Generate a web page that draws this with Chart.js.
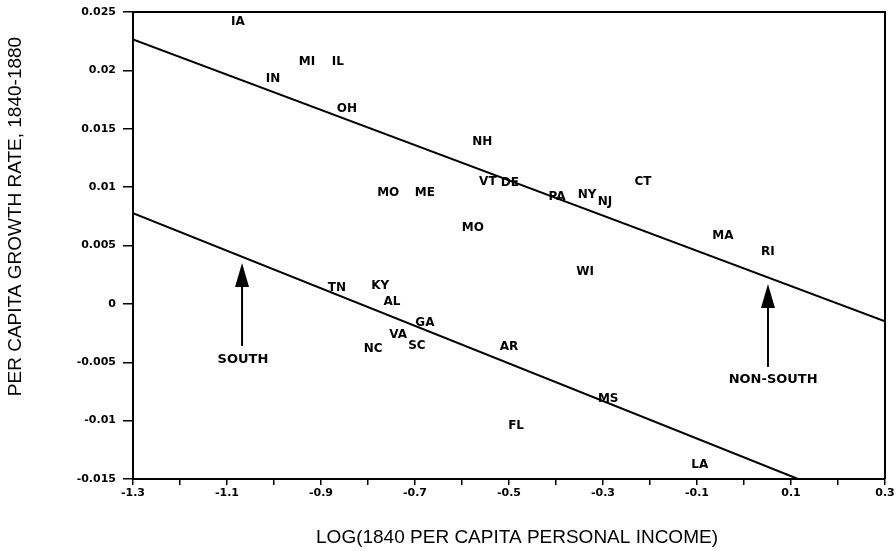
<!DOCTYPE html>
<html>
<head>
<meta charset="utf-8">
<title>Per capita growth rate vs. 1840 income</title>
<script src="https://cdn.jsdelivr.net/npm/chart.js@4.4.1/dist/chart.umd.min.js"></script>
<style>
  html, body { margin: 0; padding: 0; background: #ffffff; }
  #wrap { width: 896px; height: 551px; }
</style>
</head>
<body>
<div id="wrap"><canvas id="chart" width="896" height="551"></canvas></div>
<script>
// State observations: log of 1840 per capita income vs. growth rate 1840-1880
const states = ['IA','MI','IL','IN','OH','MO','ME','NH','VT','DE','PA','NY','NJ','CT','MO','MA','RI','WI',
                'TN','KY','AL','GA','VA','SC','NC','AR','MS','FL','LA'];
const logIncome = [-1.077,-0.930,-0.864,-1.002,-0.845,-0.757,-0.679,-0.557,-0.545,-0.498,-0.398,-0.334,-0.296,-0.215,-0.577,-0.045,0.051,-0.338,
                   -0.866,-0.774,-0.749,-0.679,-0.736,-0.696,-0.789,-0.500,-0.289,-0.485,-0.094];
const growthRate = [0.02414,0.02072,0.02072,0.01926,0.01670,0.00950,0.00950,0.01387,0.01045,0.01036,0.00916,0.00933,0.00873,0.01045,0.00651,0.00582,0.00445,0.00274,
                    0.00137,0.00154,0.00017,-0.00163,-0.00265,-0.00360,-0.00385,-0.00368,-0.00813,-0.01045,-0.01378];

// Fitted regression lines (endpoints)
const nonSouthLineX = [-1.3, 0.3];
const nonSouthLineY = [0.02266, -0.0015];
const southLineX = [-1.3, 0.115];
const southLineY = [0.00777, -0.015];

// Arrow annotations pointing at each fitted line
const arrowLabels = ['SOUTH', 'NON-SOUTH'];
const arrowX = [-1.068, 0.051];
const arrowTipY = [0.00351, 0.00171];
const arrowTailY = [-0.0036, -0.0054];
const arrowTextX = [-1.066, 0.062];
const arrowTextY = [-0.0048, -0.0065];

// Axis ticks
const xTickValues = [-1.3,-1.2,-1.1,-1.0,-0.9,-0.8,-0.7,-0.6,-0.5,-0.4,-0.3,-0.2,-0.1,0.0,0.1,0.2,0.3];
const xTickLabels = ['-1.3','','-1.1','','-0.9','','-0.7','','-0.5','','-0.3','','-0.1','','0.1','','0.3'];
const yTickValues = [-0.015,-0.01,-0.005,0,0.005,0.01,0.015,0.02,0.025];
const yTickLabels = ['-0.015','-0.01','-0.005','0','0.005','0.01','0.015','0.02','0.025'];

const xTitle = 'LOG(1840 PER CAPITA PERSONAL INCOME)';
const yTitle = 'PER CAPITA GROWTH RATE, 1840-1880';

const boldSmall = { family: "'DejaVu Sans', sans-serif", size: 11, weight: 'bold' };
const titleFontCss = "19px 'Liberation Sans', Arial, sans-serif";

// Draws each state's abbreviation at its point
const stateLabelPlugin = {
  id: 'stateLabels',
  afterDatasetsDraw(chart) {
    const ctx = chart.ctx;
    const meta = chart.getDatasetMeta(0);
    ctx.save();
    ctx.fillStyle = '#000';
    ctx.font = "bold 12px 'DejaVu Sans', sans-serif";
    ctx.textAlign = 'center';
    ctx.textBaseline = 'middle';
    meta.data.forEach((pt, i) => {
      ctx.fillText(states[i], pt.x, pt.y);
    });
    ctx.restore();
  }
};

// Plot frame (top and right edges), the two labelled arrows and the axis titles
const framePlugin = {
  id: 'frameAndArrows',
  afterDraw(chart) {
    const { ctx, chartArea: a, scales: { x, y } } = chart;
    ctx.save();
    ctx.strokeStyle = '#000';
    ctx.lineWidth = 2;
    ctx.beginPath();
    ctx.moveTo(a.left, a.top);
    ctx.lineTo(a.right, a.top);
    ctx.lineTo(a.right, a.bottom);
    ctx.stroke();

    ctx.fillStyle = '#000';
    ctx.font = "bold 13px 'DejaVu Sans', sans-serif";
    ctx.textAlign = 'center';
    ctx.textBaseline = 'middle';
    arrowLabels.forEach((label, i) => {
      const px = x.getPixelForValue(arrowX[i]);
      const tip = y.getPixelForValue(arrowTipY[i]);
      const tail = y.getPixelForValue(arrowTailY[i]);
      const headLen = 24, headHalf = 7;
      ctx.lineWidth = 2;
      ctx.beginPath();
      ctx.moveTo(px, tail);
      ctx.lineTo(px, tip + headLen - 2);
      ctx.stroke();
      ctx.beginPath();
      ctx.moveTo(px, tip);
      ctx.lineTo(px - headHalf, tip + headLen);
      ctx.lineTo(px + headHalf, tip + headLen);
      ctx.closePath();
      ctx.fill();
      ctx.fillText(label, x.getPixelForValue(arrowTextX[i]), y.getPixelForValue(arrowTextY[i]));
    });

    // Axis titles
    ctx.font = titleFontCss;
    ctx.fillText(xTitle, a.left + (a.right - a.left) / 2 + 8, chart.height - 13);
    ctx.translate(16, a.top + (a.bottom - a.top) / 2 - 29);
    ctx.rotate(-Math.PI / 2);
    ctx.fillText(yTitle, 0, 0);
    ctx.restore();
  }
};

new Chart(document.getElementById('chart'), {
  type: 'scatter',
  data: {
    datasets: [
      {
        label: 'States',
        data: logIncome.map((v, i) => ({ x: v, y: growthRate[i] })),
        pointRadius: 0,
        pointHoverRadius: 0
      },
      {
        type: 'line',
        label: 'Non-South fit',
        data: nonSouthLineX.map((v, i) => ({ x: v, y: nonSouthLineY[i] })),
        borderColor: '#000',
        borderWidth: 2,
        pointRadius: 0,
        fill: false
      },
      {
        type: 'line',
        label: 'South fit',
        data: southLineX.map((v, i) => ({ x: v, y: southLineY[i] })),
        borderColor: '#000',
        borderWidth: 2,
        pointRadius: 0,
        fill: false
      }
    ]
  },
  options: {
    responsive: false,
    animation: false,
    devicePixelRatio: 1,
    layout: { padding: { top: 12, right: 11, left: 0, bottom: 0 } },
    plugins: {
      legend: { display: false },
      tooltip: { enabled: false }
    },
    scales: {
      x: {
        type: 'linear',
        min: -1.3,
        max: 0.3,
        afterBuildTicks: s => { s.ticks = xTickValues.map(v => ({ value: v })); },
        afterFit: s => { s.height = 72; s.paddingLeft = 0; s.paddingRight = 0; },
        ticks: {
          autoSkip: false,
          maxRotation: 0,
          padding: 2,
          color: '#000',
          font: boldSmall,
          callback: (v, i) => xTickLabels[i]
        },
        grid: { drawOnChartArea: false, drawTicks: true, tickLength: 6, color: '#000', lineWidth: 1.5 },
        border: { display: true, color: '#000', width: 2 },
        title: { display: false }
      },
      y: {
        type: 'linear',
        min: -0.015,
        max: 0.025,
        afterBuildTicks: s => { s.ticks = yTickValues.map(v => ({ value: v })); },
        afterFit: s => { s.width = 133; s.paddingTop = 0; s.paddingBottom = 0; },
        ticks: {
          autoSkip: false,
          padding: 7,
          color: '#000',
          font: boldSmall,
          callback: (v, i) => yTickLabels[i]
        },
        grid: { drawOnChartArea: false, drawTicks: true, tickLength: 10, color: '#000', lineWidth: 1.5 },
        border: { display: true, color: '#000', width: 2 },
        title: { display: false }
      }
    }
  },
  plugins: [stateLabelPlugin, framePlugin]
});
</script>
</body>
</html>
